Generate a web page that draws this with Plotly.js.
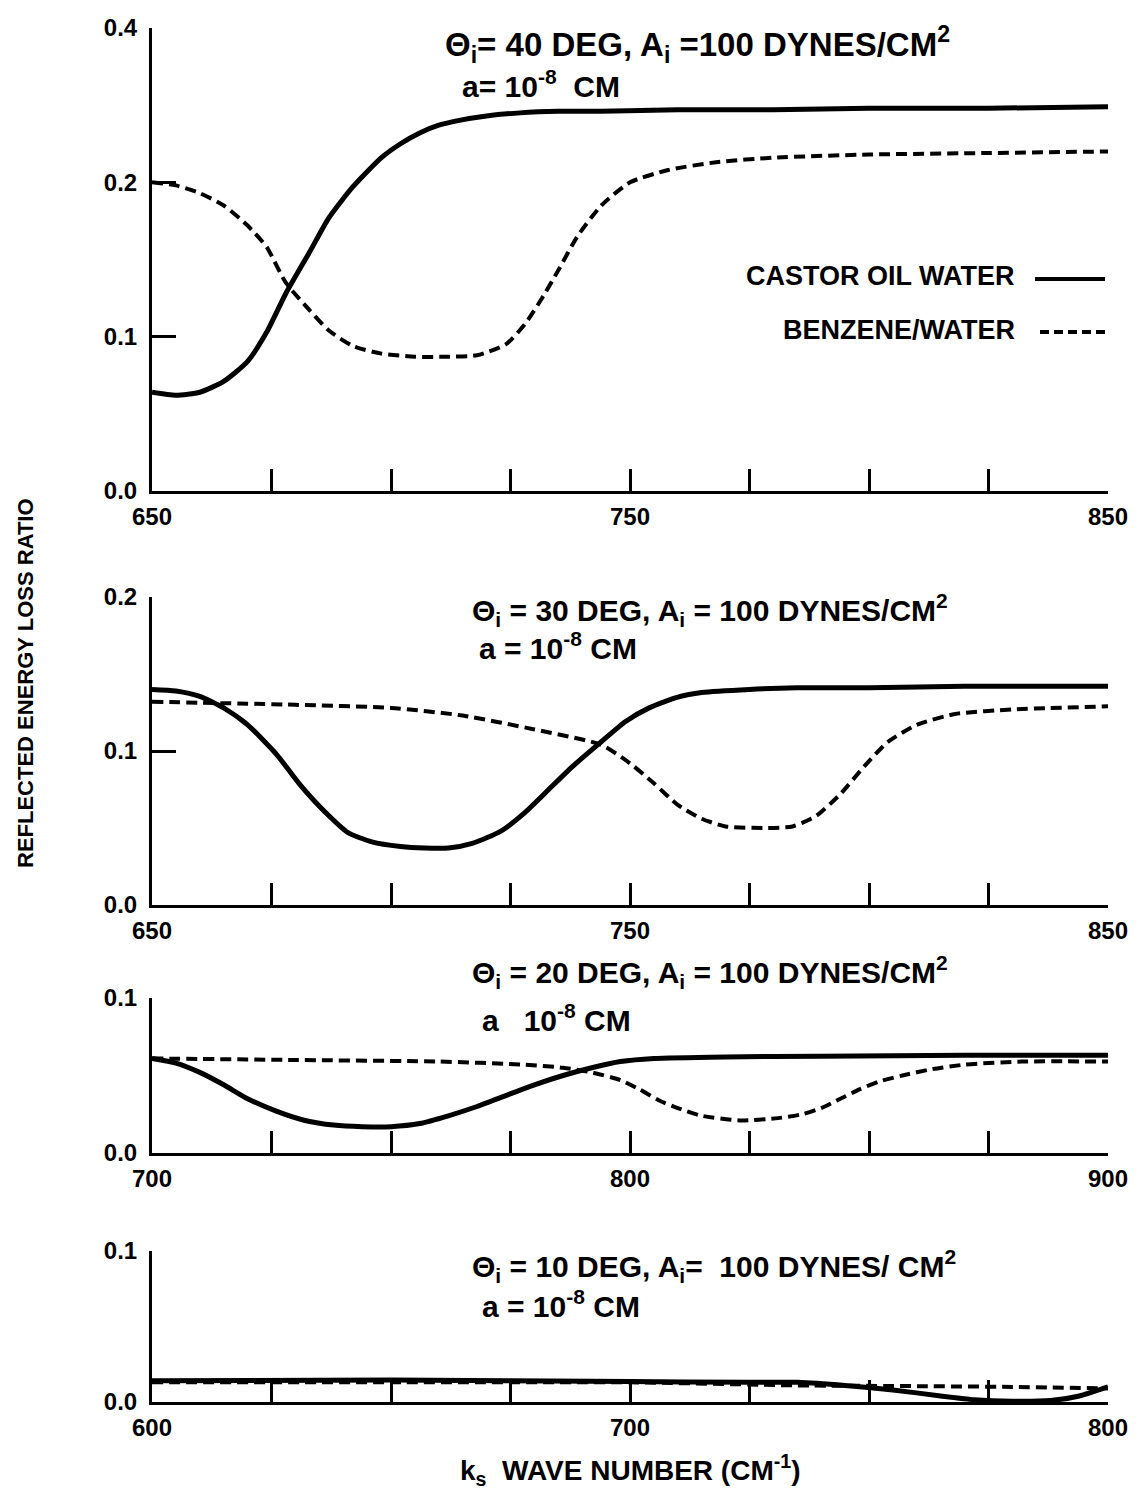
<!DOCTYPE html>
<html>
<head>
<meta charset="utf-8">
<script src="https://cdn.plot.ly/plotly-3.0.1.min.js"></script>
<style>
html,body{margin:0;padding:0;background:#fff;}
#chart{width:1144px;height:1493px;}
</style>
</head>
<body>
<div id="chart"></div>
<script>
// ---------- DATA ----------
// Panel 1: theta_i = 40 deg
const p1CastorX = [650,655,660,665,670,674,678,683,687,692,698,702,706,710,714,720,727,735,744,760,780,800,825,850];
const p1CastorY = [0.064,0.062,0.064,0.071,0.084,0.103,0.128,0.155,0.177,0.197,0.216,0.225,0.232,0.237,0.240,0.243,0.245,0.246,0.246,0.247,0.247,0.248,0.248,0.249];
const p1BenzX = [650,655,660,665,670,674,678,683,687,692,698,705,712,718,724,728,732,735,739,744,750,758,768,780,800,825,850];
const p1BenzY = [0.200,0.198,0.193,0.185,0.172,0.158,0.135,0.117,0.104,0.094,0.089,0.087,0.087,0.088,0.095,0.108,0.127,0.143,0.165,0.185,0.200,0.208,0.213,0.216,0.218,0.219,0.220];

// Panel 2: theta_i = 30 deg
const p2CastorX = [650,655,660,665,670,676,681,686,691,696,702,707,712,717,723,728,733,738,744,749,754,760,765,775,785,800,820,850];
const p2CastorY = [0.140,0.139,0.1355,0.128,0.117,0.098,0.078,0.061,0.047,0.041,0.038,0.037,0.037,0.040,0.048,0.060,0.075,0.090,0.106,0.119,0.128,0.135,0.138,0.140,0.141,0.141,0.142,0.142];
const p2BenzX = [650,680,700,715,730,744,750,755,760,765,770,778,784,789,794,799,804,810,818,830,850];
const p2BenzY = [0.132,0.130,0.128,0.123,0.114,0.104,0.092,0.079,0.065,0.056,0.051,0.050,0.051,0.058,0.072,0.090,0.106,0.117,0.124,0.127,0.129];

// Panel 3: theta_i = 20 deg
const p3CastorX = [700,705,710,715,720,726,732,738,744,750,756,762,768,774,780,786,792,798,805,820,840,870,900];
const p3CastorY = [0.061,0.058,0.052,0.044,0.035,0.027,0.021,0.018,0.017,0.017,0.019,0.024,0.030,0.037,0.044,0.050,0.055,0.059,0.061,0.062,0.0625,0.063,0.063];
const p3BenzX = [700,730,760,778,786,792,798,802,806,810,815,823,831,836,840,844,848,852,857,863,870,882,900];
const p3BenzY = [0.061,0.060,0.059,0.057,0.055,0.052,0.047,0.041,0.034,0.029,0.024,0.021,0.0225,0.025,0.029,0.035,0.041,0.046,0.050,0.054,0.057,0.059,0.059];

// Panel 4: theta_i = 10 deg
const p4CastorX = [600,650,700,725,735,745,755,765,772,780,788,794,800];
const p4CastorY = [0.014,0.0145,0.0135,0.013,0.013,0.011,0.008,0.004,0.0015,0.0005,0.001,0.004,0.010];
const p4BenzX = [600,650,700,735,760,780,800];
const p4BenzY = [0.013,0.013,0.013,0.011,0.0105,0.010,0.009];

// Tick labels
const xTicks1 = [650,750,850];
const xText1  = ['650','750','850'];
const xTicks3 = [700,800,900];
const xText3  = ['700','800','900'];
const xTicks4 = [600,700,800];
const xText4  = ['600','700','800'];
const xMinorStep = 25;
const yTicks1 = [0,0.1,0.2,0.3];
const yText1  = ['0.0','0.1','0.2','0.4'];
const yTicks2 = [0,0.1,0.2];
const yText2  = ['0.0','0.1','0.2'];
const yTicks34 = [0,0.1];
const yText34  = ['0.0','0.1'];

const seriesNames = ['CASTOR OIL WATER','BENZENE/WATER'];

// ---------- STYLE ----------
const FONT = 'Liberation Sans, Arial, sans-serif';
const H = 1493;
const py = px => 1 - px / H;   // pixel row -> paper y

const solid = {color:'#000', width:5, dash:'solid', shape:'spline', smoothing:0.6};
const dashed = {color:'#000', width:4, dash:'11px,6px', shape:'spline', smoothing:0.6};

function tr(x, y, line, xa, ya, name) {
  return {x:x, y:y, mode:'lines', line:line, xaxis:xa, yaxis:ya, name:name, showlegend:false, hoverinfo:'skip'};
}

const data = [
  tr(p1CastorX,p1CastorY,solid,'x','y',seriesNames[0]),
  tr(p1BenzX,p1BenzY,dashed,'x','y',seriesNames[1]),
  tr(p2CastorX,p2CastorY,solid,'x2','y2',seriesNames[0]),
  tr(p2BenzX,p2BenzY,dashed,'x2','y2',seriesNames[1]),
  tr(p3CastorX,p3CastorY,solid,'x3','y3',seriesNames[0]),
  tr(p3BenzX,p3BenzY,dashed,'x3','y3',seriesNames[1]),
  tr(p4CastorX,p4CastorY,solid,'x4','y4',seriesNames[0]),
  tr(p4BenzX,p4BenzY,dashed,'x4','y4',seriesNames[1])
];

const tickFont = {family:FONT, size:24, color:'#000', weight:700};

function xax(range, vals, text, anchor) {
  return {range:range, tickmode:'array', tickvals:vals, ticktext:text, ticks:'inside', ticklen:22, tickwidth:3,
          tickcolor:'#000', showline:true, linewidth:3, linecolor:'#000', showgrid:false, zeroline:false,
          minor:{ticks:'inside', tick0:range[0], dtick:xMinorStep, ticklen:22, tickwidth:3, tickcolor:'#000', showgrid:false},
          tickfont:tickFont, anchor:anchor, domain:[0,1], fixedrange:true, ticklabelstandoff:2};
}
function yax(range, vals, text, domain, anchor) {
  return {range:range, tickmode:'array', tickvals:vals, ticktext:text, ticks:'inside', ticklen:24, tickwidth:3,
          tickcolor:'#000', showline:true, linewidth:3, linecolor:'#000', showgrid:false, zeroline:false,
          tickfont:tickFont, anchor:anchor, domain:domain, fixedrange:true, ticklabelstandoff:7};
}

const annFont = {family:FONT, size:30, color:'#000', weight:700};
function fnt(size) { return Object.assign({}, annFont, {size:size}); }
function ann(text, xpx, ypx, opts) {
  return Object.assign({text:text, xref:'paper', yref:'paper', x:(xpx-152)/956, y:py(ypx), xanchor:'left', yanchor:'middle',
          showarrow:false, font:annFont}, opts || {});
}

const annotations = [
  ann('Θ<sub>i</sub>= 40 DEG, A<sub>i</sub> =100 DYNES/CM<sup>2</sup>', 443, 44, {font:fnt(33)}),
  ann('a= 10<sup>-8</sup>  CM', 460, 84, {font:fnt(30)}),
  ann('CASTOR OIL WATER', 1017, 276, {xanchor:'right', font:fnt(27)}),
  ann('BENZENE/WATER', 1017, 330, {xanchor:'right', font:fnt(27)}),
  ann('Θ<sub>i</sub> = 30 DEG, A<sub>i</sub> = 100 DYNES/CM<sup>2</sup>', 470, 610),
  ann('a = 10<sup>-8</sup> CM', 477, 646),
  ann('Θ<sub>i</sub> = 20 DEG, A<sub>i</sub> = 100 DYNES/CM<sup>2</sup>', 470, 972),
  ann('a   10<sup>-8</sup> CM', 480, 1018),
  ann('Θ<sub>i</sub> = 10 DEG, A<sub>i</sub>=  100 DYNES/ CM<sup>2</sup>', 470, 1266),
  ann('a = 10<sup>-8</sup> CM', 480, 1304),
  ann('k<sub>s</sub>  WAVE NUMBER (CM<sup>-1</sup>)', 630, 1470, {xanchor:'center', font:fnt(28)}),
  ann('REFLECTED ENERGY LOSS RATIO', 25, 683, {xanchor:'center', textangle:-90, font:fnt(22)})
];

// legend sample lines (paper coords)
const lx = px => (px-152)/956;
const shapes = [
  {type:'line', xref:'paper', yref:'paper', x0:lx(1035), x1:lx(1105), y0:py(279), y1:py(279), line:{color:'#000', width:4}},
  {type:'line', xref:'paper', yref:'paper', x0:lx(1040), x1:lx(1105), y0:py(332), y1:py(332), line:{color:'#000', width:4, dash:'9px,5px'}}
];

const layout = {
  width:1144, height:1493,
  margin:{l:152, r:36, t:0, b:0},
  paper_bgcolor:'#fff', plot_bgcolor:'#fff',
  showlegend:false,
  xaxis:  xax([650,850], xTicks1, xText1, 'y'),
  yaxis:  yax([0,0.3], yTicks1, yText1, [py(491), py(28)], 'x'),
  xaxis2: xax([650,850], xTicks1, xText1, 'y2'),
  yaxis2: yax([0,0.2], yTicks2, yText2, [py(905), py(597)], 'x2'),
  xaxis3: xax([700,900], xTicks3, xText3, 'y3'),
  yaxis3: yax([0,0.1], yTicks34, yText34, [py(1153), py(998)], 'x3'),
  xaxis4: xax([600,800], xTicks4, xText4, 'y4'),
  yaxis4: yax([0,0.1], yTicks34, yText34, [py(1402), py(1251)], 'x4'),
  annotations:annotations,
  shapes:shapes
};

Plotly.newPlot('chart', data, layout, {staticPlot:true, displayModeBar:false});
</script>
</body>
</html>
